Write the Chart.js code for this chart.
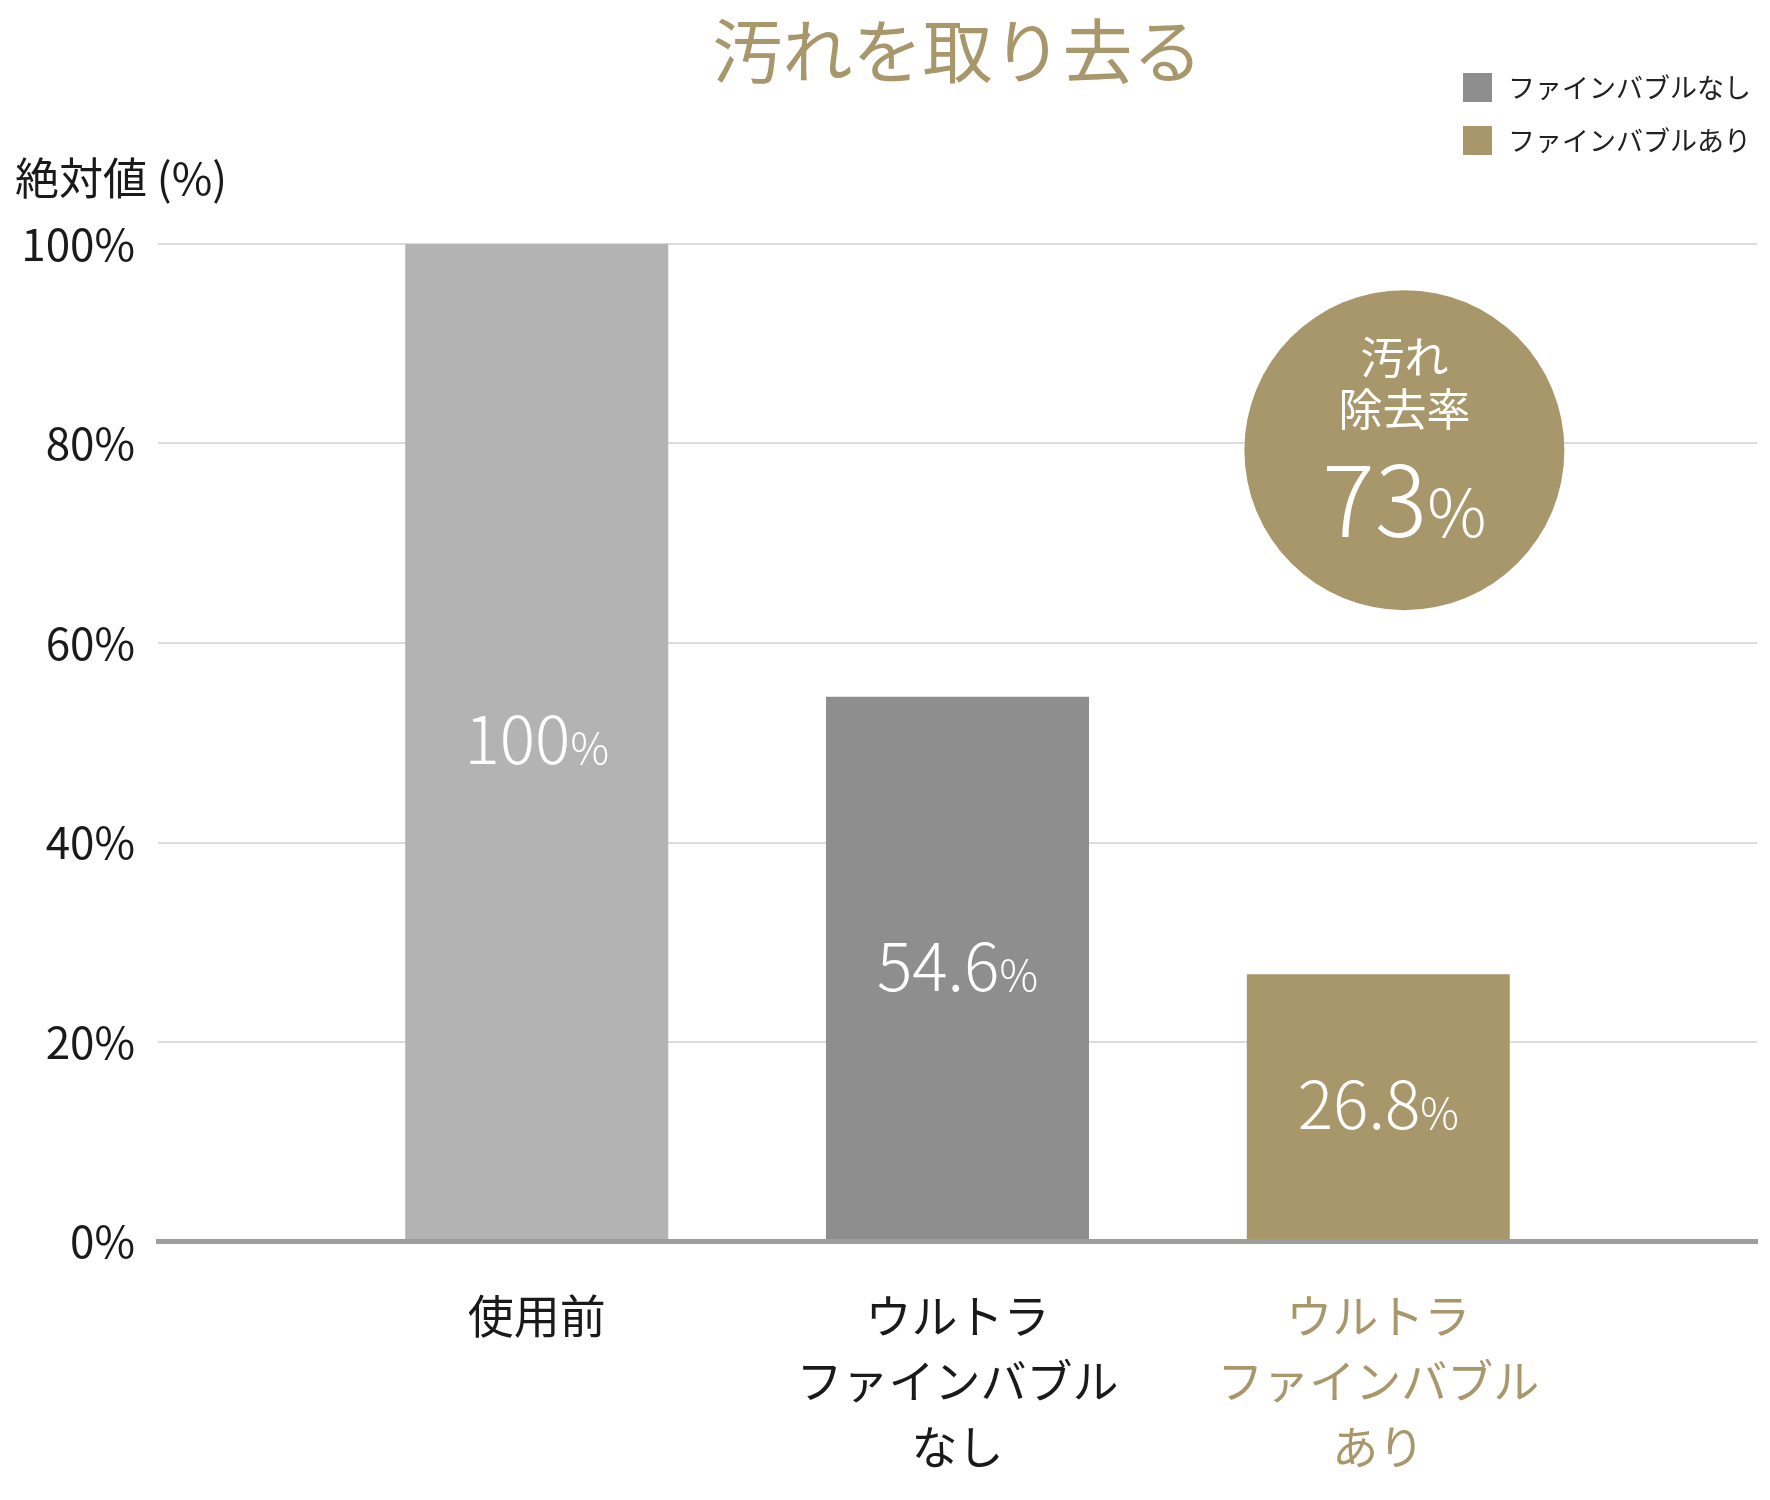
<!DOCTYPE html>
<html lang="ja">
<head>
<meta charset="utf-8">
<script src="https://cdn.jsdelivr.net/npm/chart.js@4.4.1/dist/chart.umd.min.js"></script>
<style>
html, body { margin: 0; padding: 0; background: #fff; }
</style>
</head>
<body>
<canvas id="myChart" width="1770" height="1500"></canvas>
<script>
// 데이터
const categories = [['使用前'], ['ウルトラ', 'ファインバブル', 'なし'], ['ウルトラ', 'ファインバブル', 'あり']];
const values = [100, 54.6, 26.8];
const valueLabels = ['100', '54.6', '26.8'];
const barColors = ['#b3b3b4', '#8e8e8f', '#a8976b'];
const labelColors = ['#1a1a1a', '#1a1a1a', '#a8976b'];
const yTicks = [0, 20, 40, 60, 80, 100];
const legendLabels = ['ファインバブルなし', 'ファインバブルあり'];
const legendColors = ['#8e8e8f', '#a8976b'];
const badgeLines = ['汚れ', '除去率'];
const badgeValue = '73';

const FONT = "'Noto Sans CJK JP', 'Noto Sans', sans-serif";
Chart.defaults.font.family = FONT;

// 막대 안 수치 (숫자 + 작은 %)
function drawNumPct(c, num, x, baseline, big, small, weight) {
	c.font = weight + ' ' + big + 'px ' + FONT;
	const w1 = c.measureText(num).width;
	c.font = weight + ' ' + small + 'px ' + FONT;
	const w2 = c.measureText('%').width;
	const left = x - (w1 + w2) / 2;
	c.textAlign = 'left';
	c.textBaseline = 'alphabetic';
	c.font = weight + ' ' + big + 'px ' + FONT;
	c.fillText(num, left, baseline);
	c.font = weight + ' ' + small + 'px ' + FONT;
	c.fillText('%', left + w1, baseline);
}

const barValuePlugin = {
	id: 'barValue',
	afterDatasetsDraw(chart) {
		const c = chart.ctx;
		const meta = chart.getDatasetMeta(0);
		c.save();
		c.fillStyle = '#ffffff';
		meta.data.forEach((bar, i) => {
			const mid = (bar.y + bar.base) / 2;
			drawNumPct(c, valueLabels[i], bar.x, mid + 22, 66, 43, 300);
		});
		c.restore();
	}
};

// 오염 제거율 원
const badgePlugin = {
	id: 'badge',
	afterDatasetsDraw(chart) {
		const c = chart.ctx;
		const cx = chart.scales.x.getPixelForValue(2.062);
		const cy = chart.scales.y.getPixelForValue(79.33);
		c.save();
		c.fillStyle = '#a8976b';
		c.beginPath();
		c.arc(cx, cy, 160, 0, Math.PI * 2);
		c.fill();
		c.fillStyle = '#ffffff';
		c.textAlign = 'center';
		c.textBaseline = 'middle';
		c.font = '400 44px ' + FONT;
		c.fillText(badgeLines[0], cx, cy - 93);
		c.fillText(badgeLines[1], cx, cy - 41);
		drawNumPct(c, badgeValue, cx, cy + 87, 98, 66, 300);
		c.restore();
	}
};

// 범례 (오른쪽 위, 세로)
const legendPlugin = {
	id: 'sideLegend',
	afterDraw(chart) {
		const c = chart.ctx;
		const x = chart.chartArea.right - 294;
		c.save();
		legendLabels.forEach((t, i) => {
			const y = 73 + i * 53;
			c.fillStyle = legendColors[i];
			c.fillRect(x, y, 29, 29);
			c.fillStyle = '#222222';
			c.textAlign = 'left';
			c.textBaseline = 'middle';
			c.font = '400 27px ' + FONT;
			c.fillText(t, x + 45, y + 15);
		});
		c.restore();
	}
};

const ctx = document.getElementById('myChart');

new Chart(ctx, {
	type: 'bar',
	data: {
		datasets: [{
			data: values.map((v, i) => ({ x: i, y: v })),
			backgroundColor: barColors,
			borderWidth: 0,
			categoryPercentage: 1,
			barPercentage: 0.625
		}]
	},
	options: {
		responsive: false,
		animation: false,
		devicePixelRatio: 1,
		layout: { padding: { left: 15, right: 13, top: 0, bottom: 0 } },
		plugins: {
			legend: { display: false },
			tooltip: { enabled: false },
			title: {
				display: true,
				text: '汚れを取り去る',
				color: '#a8976b',
				fullSize: false,
				font: { size: 70, weight: 400, lineHeight: 1.2 },
				padding: { top: 9, bottom: 10 }
			},
			subtitle: {
				display: true,
				text: '絶対値 (%)',
				align: 'start',
				color: '#1a1a1a',
				font: { size: 44, weight: 400, lineHeight: 1.2 },
				padding: { top: 48.6, bottom: 39.6 }
			}
		},
		scales: {
			x: {
				type: 'linear',
				min: -0.9,
				max: 2.9,
				offset: false,
				afterBuildTicks: (s) => { s.ticks = categories.map((c, i) => ({ value: i })); },
				afterFit: (s) => { s.height = 258.5; },
				grid: { display: false, drawTicks: false, offset: false },
				border: { display: true, color: '#9d9d9d', width: 5, z: 1 },
				ticks: {
					padding: 41.5,
					autoSkip: false,
					maxRotation: 0,
					color: (c) => labelColors[c.index],
					font: { size: 46, weight: 400, lineHeight: 1.42 },
					callback: (v, i) => categories[i]
				}
			},
			y: {
				min: 0,
				max: 100,
				afterBuildTicks: (s) => { s.ticks = yTicks.map(v => ({ value: v })); },
				afterFit: (s) => { s.width = 143; },
				grid: { color: '#dcdcdc', lineWidth: 2, drawTicks: false },
				border: { display: false },
				ticks: {
					padding: 23,
					color: '#1a1a1a',
					font: { size: 44, weight: 400 },
					callback: (v) => v + '%'
				}
			}
		}
	},
	plugins: [barValuePlugin, badgePlugin, legendPlugin]
});
</script>
</body>
</html>
